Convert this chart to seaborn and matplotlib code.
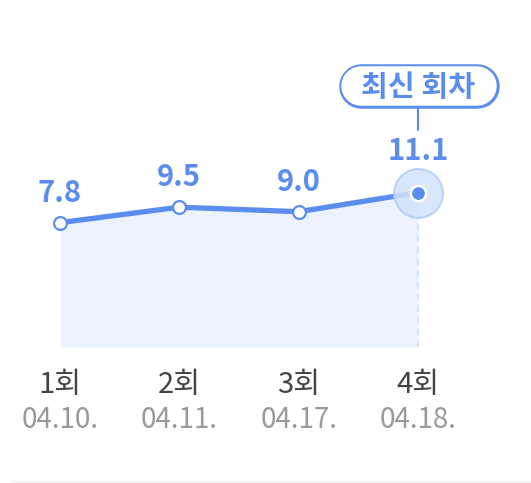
import matplotlib
matplotlib.use('Agg')
import matplotlib.pyplot as plt
from matplotlib.transforms import IdentityTransform
import seaborn as sns
import pandas as pd

# chart data
rounds = ["1회", "2회", "3회", "4회"]
dates = ["04.10.", "04.11.", "04.17.", "04.18."]
values = [7.8, 9.5, 9.0, 11.1]
badge_text = "최신 회차"

BLUE = "#5a8dee"
FILL = "#ecf3fe"
W, H = 531, 483

sns.set_theme(style="white")
plt.rcParams['font.family'] = ['Noto Sans CJK KR', 'DejaVu Sans']

df = pd.DataFrame({"idx": range(len(values)), "value": values})

fig = plt.figure(figsize=(W / 100, H / 100), dpi=100)
ax = fig.add_axes([0, 0, 1, 1])
ax.set_xlim(-0.503, 3.947)
ax.set_ylim(-20.78, 32.24)
ax.axis("off")

fill_base = -5.85
ax.fill_between(df["idx"], df["value"], fill_base, color=FILL, lw=0, zorder=1)

last = df.index[-1]
ax.plot([last, last], [fill_base, values[-1]], color="#d3dff4", lw=1.2,
        ls=(0, (4, 3)), zorder=2)

sns.lineplot(data=df, x="idx", y="value", ax=ax, color=BLUE, lw=3.8,
             zorder=3, legend=False)

# white markers for older rounds
ax.scatter(df["idx"][:-1], df["value"][:-1], s=85, facecolor="white",
           edgecolor=BLUE, linewidths=1.6, zorder=4)

# highlight on latest round
ax.scatter([last], [values[-1]], s=1240, facecolor="#d3e2fb",
           edgecolor="#b3cdf6", linewidths=1.5, alpha=0.85, zorder=4)
ax.scatter([last], [values[-1]], s=120, facecolor=BLUE,
           edgecolor="white", linewidths=1.8, zorder=5)

# value labels
for i, v in enumerate(values):
    off = 4.6 if i == last else 3.3
    ax.text(i, v + off, f"{v:.1f}", ha="center", va="center", fontsize=21,
            fontweight="bold", color=BLUE, zorder=6)

# badge + connector (pill drawn as round-capped thick lines, in pixels)
ax.plot([last, last], [1 - 107 / H, 1 - 130 / H], color=BLUE, lw=1.5,
        transform=ax.get_xaxis_transform(), zorder=6)
px = IdentityTransform()
ax.plot([361, 477], [H - 86, H - 86], transform=px, color=BLUE,
        lw=44.5 * 0.72, solid_capstyle="round", clip_on=False, zorder=6)
ax.plot([361, 477], [H - 86, H - 86], transform=px, color="white",
        lw=39.5 * 0.72, solid_capstyle="round", clip_on=False, zorder=6)
ax.text(last, 1 - 87 / H, badge_text, ha="center", va="center",
        fontsize=21, fontweight="bold", color=BLUE,
        transform=ax.get_xaxis_transform(), zorder=7)

# x labels
for i, (r, d) in enumerate(zip(rounds, dates)):
    ax.text(i, 1 - 385 / H, r, ha="center", va="center", fontsize=21,
            color="#444444", transform=ax.get_xaxis_transform())
    ax.text(i, 1 - 420 / H, d, ha="center", va="center", fontsize=20,
            color="#999999", transform=ax.get_xaxis_transform())

# bottom divider
ax.plot([0.02, 1.0], [2 / H, 2 / H], color="#eeeeee", lw=1,
        transform=ax.transAxes)

fig.savefig("out.png", dpi=100)
plt.close(fig)
